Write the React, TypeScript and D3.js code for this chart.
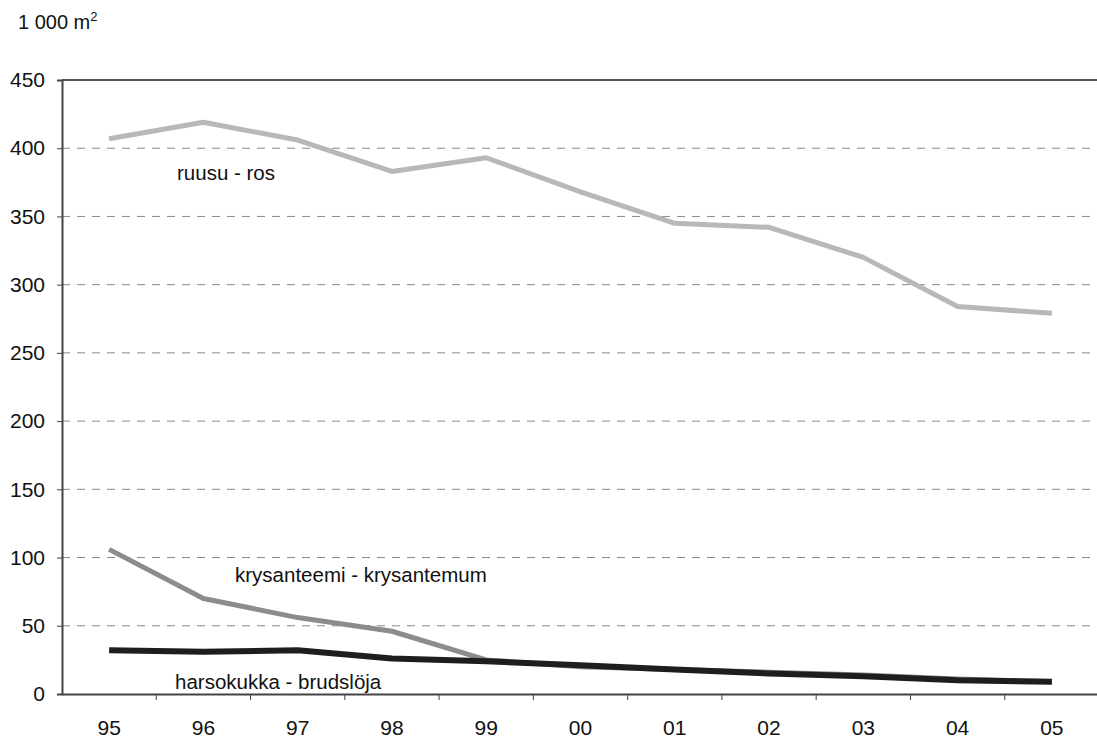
import React, { useEffect, useRef } from 'react';
import * as d3 from 'd3';

const years = ['95', '96', '97', '98', '99', '00', '01', '02', '03', '04', '05'];
const ruusu = [407, 419, 406, 383, 393, 368, 345, 342, 320, 284, 279];
const krysanteemi = [106, 70, 56, 46, 25, 20, 18, 16, 14, 11, 9];
const harsokukka = [32, 31, 32, 26, 24, 21, 18, 15, 13, 10, 9];
const yTicks = [0, 50, 100, 150, 200, 250, 300, 350, 400, 450];

const App = () => {
  const svgRef = useRef<SVGSVGElement>(null);

  useEffect(() => {
    const svg = d3.select(svgRef.current);
    svg.selectAll('*').remove();

    const W = 1097;
    const H = 745;
    const margin = { top: 80, right: -2, bottom: 51, left: 62 };
    const width = W - margin.left - margin.right;
    const height = H - margin.top - margin.bottom;
    const font = 'Liberation Sans, Arial, sans-serif';

    svg.attr('width', W).attr('height', H);

    const x = d3.scaleBand().domain(years).range([0, width]);
    const y = d3.scaleLinear().domain([0, 450]).range([height, 0]);

    const g = svg.append('g').attr('transform', `translate(${margin.left},${margin.top})`);

    // dashed gridlines
    g.selectAll('line.grid')
      .data(yTicks.filter(t => t > 0 && t < 450))
      .enter()
      .append('line')
      .attr('x1', 0)
      .attr('x2', width)
      .attr('y1', d => y(d))
      .attr('y2', d => y(d))
      .attr('stroke', '#888')
      .attr('stroke-width', 1)
      .attr('stroke-dasharray', '8,7');

    // frame top
    g.append('line')
      .attr('x1', 0).attr('x2', width)
      .attr('y1', 0).attr('y2', 0)
      .attr('stroke', '#555').attr('stroke-width', 2);

    // y axis
    const yAxis = g.append('g').call(
      d3.axisLeft(y).tickValues(yTicks).tickSize(5).tickPadding(12)
    );
    yAxis.select('.domain').attr('stroke', '#444').attr('stroke-width', 2);
    yAxis.selectAll('.tick line').attr('stroke', '#444');
    yAxis.selectAll('text')
      .attr('font-family', font)
      .attr('font-size', 21)
      .attr('fill', '#111');

    // x axis
    const xAxis = g.append('g')
      .attr('transform', `translate(0,${height})`)
      .call(d3.axisBottom(x).tickSize(0).tickPadding(26));
    xAxis.select('.domain').attr('stroke', '#444').attr('stroke-width', 2);
    xAxis.selectAll('text')
      .attr('font-family', font)
      .attr('font-size', 21)
      .attr('fill', '#111');

    // x tick marks between categories
    g.selectAll('line.xtick')
      .data(years.slice(1))
      .enter()
      .append('line')
      .attr('x1', d => x(d)!)
      .attr('x2', d => x(d)!)
      .attr('y1', height)
      .attr('y2', height + 6)
      .attr('stroke', '#444')
      .attr('stroke-width', 1);

    const line = d3.line<number>()
      .x((_, i) => x(years[i])! + x.bandwidth() / 2)
      .y(d => y(d));

    const series = [
      { data: ruusu, color: '#b8b8b8', w: 5 },
      { data: krysanteemi, color: '#8c8c8c', w: 5 },
      { data: harsokukka, color: '#1e1e1e', w: 6 },
    ];

    series.forEach(s => {
      g.append('path')
        .datum(s.data)
        .attr('fill', 'none')
        .attr('stroke', s.color)
        .attr('stroke-width', s.w)
        .attr('stroke-linejoin', 'round')
        .attr('stroke-linecap', 'butt')
        .attr('d', line);
    });

    // series labels
    const labels = [
      { text: 'ruusu - ros', x: 115, y: 180 },
      { text: 'krysanteemi - krysantemum', x: 173, y: 582 },
      { text: 'harsokukka - brudslöja', x: 113, y: 689 },
    ];
    labels.forEach(l => {
      svg.append('text')
        .attr('x', margin.left + l.x)
        .attr('y', l.y)
        .attr('font-family', font)
        .attr('font-size', 20.5)
        .attr('fill', '#111')
        .text(l.text);
    });

    // unit label
    const unit = svg.append('text')
      .attr('x', 18)
      .attr('y', 29)
      .attr('font-family', font)
      .attr('font-size', 20)
      .attr('fill', '#111');
    unit.append('tspan').text('1 000 m');
    unit.append('tspan').attr('font-size', 13).attr('dy', -8).text('2');
  }, []);

  return (
    <svg
      ref={svgRef}
      style={{ position: 'absolute', left: 0, top: 0, background: '#fff' }}
    />
  );
};

export default App;
